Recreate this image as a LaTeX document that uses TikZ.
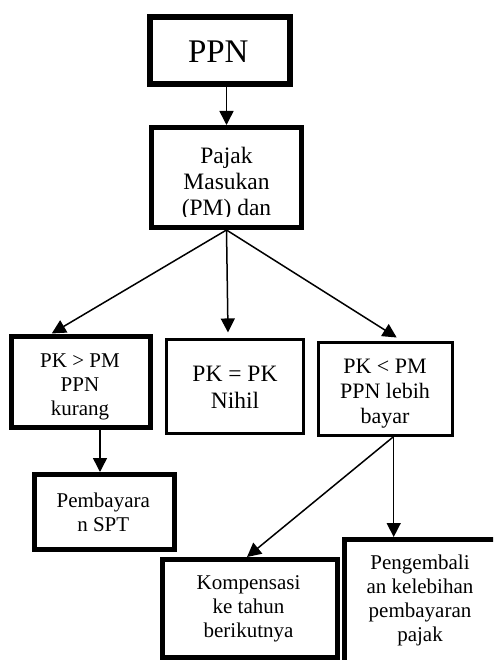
\documentclass[tikz,border=0pt]{standalone}
\usepackage{fontspec}
\setmainfont{Liberation Serif}
\usetikzlibrary{arrows.meta}
\tikzset{
 thickbox/.style={draw, line width=5pt, fill=white, inner sep=0pt},
 thinbox/.style={draw, line width=3pt, fill=white, inner sep=0pt},
 lbl/.style={align=center, inner sep=0pt},
 arr/.style={line width=1.5pt, -{Triangle[length=14pt,width=14pt]}},
}
\begin{document}
\begin{tikzpicture}[x=1pt,y=-1pt]
\clip (0,0) rectangle (493,660);
\fill[white] (0,0) rectangle (493,660);
% boxes
\node[thickbox, line width=6pt, minimum width=140pt, minimum height=67pt] (ppn) at (220,50.5) {};
\node[thickbox, minimum width=150pt, minimum height=100pt] (pajak) at (226.5,177.5) {};
\node[thickbox, minimum width=139.5pt, minimum height=91pt] (lb) at (80.75,381.5) {};
\node[thinbox, minimum width=137pt, minimum height=93.5pt] (mb) at (235,386.7) {};
\node[thinbox, minimum width=134.5pt, minimum height=93pt] (rb) at (385.7,388.5) {};
\node[thickbox, minimum width=140pt, minimum height=75pt] (pb) at (104.5,512) {};
\node[thickbox, minimum width=175pt, minimum height=98pt] (kb) at (250,608.5) {};
\node[thickbox, minimum width=165.5pt, minimum height=124pt] (gb) at (427.25,601.5) {};
% connectors
\draw[arr] (pajak.north |- ppn.south) -- (pajak.north);
\draw[arr] (pajak.south) -- ([xshift=-29pt]lb.north);
\draw[arr] (pajak.south) -- ([xshift=-7pt,yshift=6pt]mb.north);
\draw[arr] (pajak.south) -- ([xshift=11pt,yshift=3pt]rb.north);
\coordinate (ls) at ([xshift=19.25pt]lb.south);
\draw[arr] (ls) -- (ls |- pb.north);
\coordinate (rs) at ([xshift=8pt]rb.south);
\draw[arr] (rs) -- ([xshift=-3pt]kb.north);
\draw[arr] (rs) -- (rs |- gb.north);
% texts
\node[lbl, font=\fontsize{33}{36}\selectfont] (ppnt) at (218.3,51.7) {PPN};
\begin{scope}
\clip (152,130) rectangle (301,216.5);
\node[lbl, font=\fontsize{23.5}{26}\selectfont] (pajakt) at (226.5,183.4) {Pajak\\Masukan\\(PM) dan};
\end{scope}
\node[lbl, font=\fontsize{21}{24}\selectfont] (lt) at (80,386.4) {PK > PM\\PPN\\kurang};
\node[lbl, font=\fontsize{23.5}{27}\selectfont] (mt) at (235,387.8) {PK = PK\\Nihil};
\node[lbl, font=\fontsize{22}{25}\selectfont] (rt) at (385,393.3) {PK < PM\\PPN lebih\\bayar};
\node[lbl, font=\fontsize{21}{23.5}\selectfont] (pt) at (103.3,512.1) {Pembayara\\n SPT};
\node[lbl, font=\fontsize{21}{24}\selectfont] (kt) at (248.5,609) {Kompensasi\\ke tahun\\berikutnya};
\node[lbl, font=\fontsize{21}{24}\selectfont] (gt) at (420,600.5) {Pengembali\\an kelebihan\\pembayaran\\pajak};
\end{tikzpicture}
\end{document}
